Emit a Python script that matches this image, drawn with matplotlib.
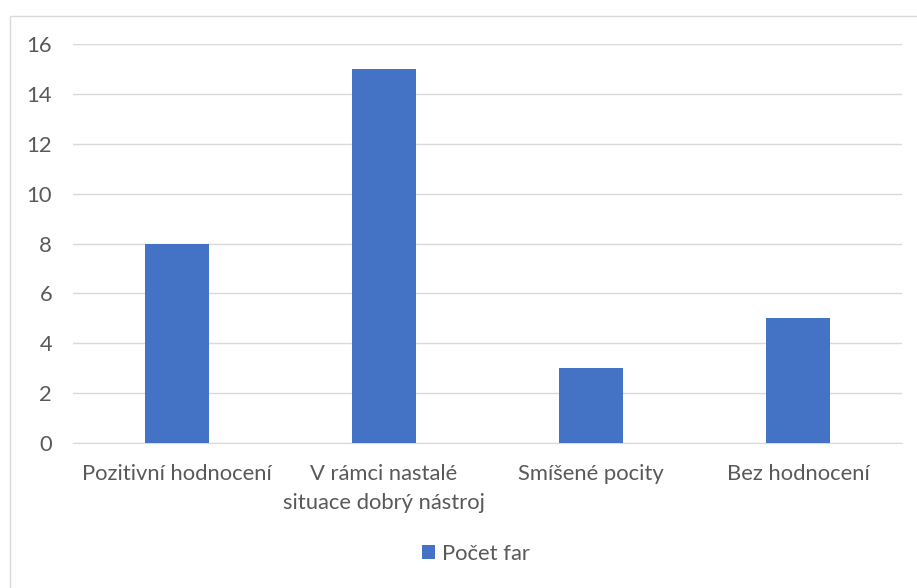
import matplotlib
matplotlib.use("Agg")
import matplotlib.pyplot as plt
from matplotlib.patches import Rectangle

categories = ["Pozitivní hodnocení", "V rámci nastalé\nsituace dobrý nástroj", "Smíšené pocity", "Bez hodnocení"]
values = [8, 15, 3, 5]
series_name = "Počet far"
yticks = [0, 2, 4, 6, 8, 10, 12, 14, 16]

plt.rcParams['font.family'] = ['Lato', 'DejaVu Sans']
text_color = '#595959'
bar_color = '#4472C4'
grid_color = '#D9D9D9'
fs = 15.8

W, H = 917, 588
fig = plt.figure(figsize=(W / 100, H / 100), dpi=100)
fig.patches.append(Rectangle((10 / W, -0.1), 1.1, (H - 16) / H + 0.1, transform=fig.transFigure,
                             fill=False, edgecolor='#D9D9D9', linewidth=1.0))

ax = fig.add_axes([73 / W, (H - 443) / H, (902 - 73) / W, (443 - 44) / H])
x = list(range(len(categories)))
ax.bar(x, values, width=0.31, color=bar_color, zorder=3, label=series_name)
ax.set_xlim(-0.5, len(categories) - 0.5)
ax.set_ylim(0, 16)
ax.set_yticks(yticks)
ax.set_xticks(x)
ax.set_xticklabels(categories, fontsize=fs, color=text_color, linespacing=1.55)
ax.tick_params(axis='y', labelsize=fs, labelcolor=text_color, length=0, pad=15)
ax.tick_params(axis='x', length=0, pad=15)
ax.grid(axis='y', color=grid_color, linewidth=1, zorder=0)
for s in ['top', 'right', 'left']:
    ax.spines[s].set_visible(False)
ax.spines['bottom'].set_color(grid_color)

leg = fig.legend(loc='center', bbox_to_anchor=(476 / W, (H - 554) / H), frameon=False,
                 fontsize=fs, handlelength=0.6, handleheight=0.6, handletextpad=0.3)
for t in leg.get_texts():
    t.set_color(text_color)

fig.savefig("out.png", dpi=100)
